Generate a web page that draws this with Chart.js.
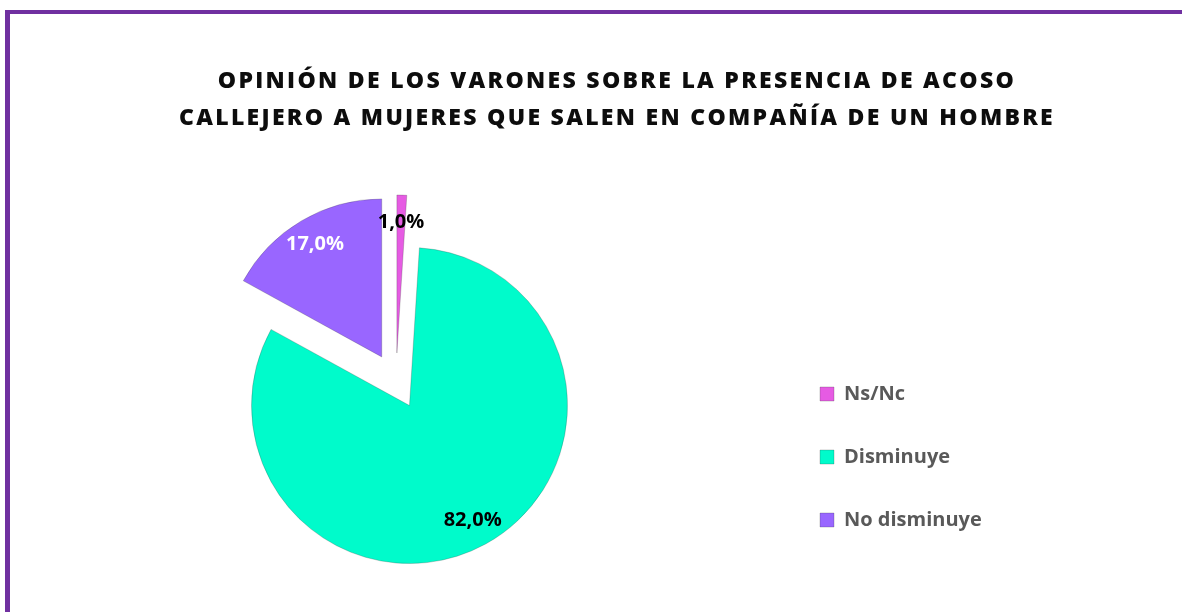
<!DOCTYPE html>
<html>
<head>
<meta charset="utf-8">
<title>Acoso callejero</title>
<script src="https://cdn.jsdelivr.net/npm/chart.js@4.4.1/dist/chart.umd.min.js"></script>
<style>
  html, body { margin: 0; padding: 0; background: #fff; overflow: hidden; }
  canvas { position: absolute; left: 0; top: 0; }
  #frame {
    position: absolute; left: 5px; top: 10px; width: 1200px; height: 640px;
    border-top: 4px solid #7030a0; border-left: 5px solid #7030a0;
    pointer-events: none;
  }
</style>
</head>
<body>
<canvas id="pieChart" width="1182" height="612"></canvas>
<div id="frame"></div>
<script>
const categories = ['Ns/Nc', 'Disminuye', 'No disminuye'];
const percentages = [1.0, 82.0, 17.0];
const sliceColors = ['#e65be3', '#00fbcb', '#9966ff'];
const labelColors = ['#000000', '#000000', '#ffffff'];
const titleLines = [
    'OPINIÓN DE LOS VARONES SOBRE LA PRESENCIA DE ACOSO',
    'CALLEJERO A MUJERES QUE SALEN EN COMPAÑÍA DE UN HOMBRE'
];

const FONT = "'Open Sans', 'DejaVu Sans', sans-serif";

// every slice is pulled out along its own mid angle (exploded pie)
const explodeSlices = {
    id: 'explodeSlices',
    beforeDatasetsDraw(chart, args, opts) {
        const area = chart.chartArea;
        const cx = (area.left + area.right) / 2;
        const cy = (area.top + area.bottom) / 2;
        chart.getDatasetMeta(0).data.forEach(arc => {
            const mid = (arc.startAngle + arc.endAngle) / 2;
            arc.x = cx + Math.cos(mid) * opts.distance;
            arc.y = cy + Math.sin(mid) * opts.distance;
        });
    }
};

// percent labels inside the slices, "82,0%" style
const sliceLabels = {
    id: 'sliceLabels',
    afterDatasetsDraw(chart, args, opts) {
        const ctx = chart.ctx;
        ctx.save();
        ctx.font = opts.font;
        ctx.textAlign = 'center';
        ctx.textBaseline = 'middle';
        chart.getDatasetMeta(0).data.forEach((arc, i) => {
            const mid = (arc.startAngle + arc.endAngle) / 2;
            const r = arc.outerRadius * opts.position;
            ctx.fillStyle = labelColors[i];
            ctx.fillText(percentages[i].toFixed(1).replace('.', ',') + '%',
                arc.x + Math.cos(mid) * r, arc.y + Math.sin(mid) * r);
        });
        ctx.restore();
    }
};

// wider legend box so the pie sits left of it, and spaced title letters
const boxTweaks = {
    id: 'boxTweaks',
    beforeInit(chart) {
        const legend = chart.legend;
        const fit = legend.fit;
        legend.fit = function () {
            fit.call(this);
            this.width = 442;
        };
        const block = chart.titleBlock;
        const draw = block.draw;
        block.draw = function () {
            const ctx = this.ctx;
            ctx.save();
            ctx.letterSpacing = '2.3px';
            draw.call(this);
            ctx.restore();
        };
    }
};

const ctx = document.getElementById('pieChart').getContext('2d');
const chart = new Chart(ctx, {
    type: 'pie',
    data: {
        labels: categories,
        datasets: [{
            data: percentages,
            backgroundColor: sliceColors,
            borderColor: 'rgba(60, 60, 60, 0.25)',
            borderWidth: 1,
            radius: 158
        }]
    },
    options: {
        responsive: false,
        animation: false,
        events: [],
        layout: {
            padding: { left: 15, right: -37, top: 0, bottom: 39 }
        },
        plugins: {
            title: {
                display: true,
                text: titleLines,
                color: '#0d0d0d',
                font: { family: FONT, size: 23, weight: 800, lineHeight: '37px' },
                padding: { top: 63, bottom: 52 }
            },
            legend: {
                position: 'right',
                align: 'end',
                labels: {
                    color: '#595959',
                    font: { family: FONT, size: 20, weight: 'bold' },
                    boxWidth: 14,
                    boxHeight: 14,
                    padding: 43
                }
            },
            tooltip: { enabled: false },
            explodeSlices: { distance: 28 },
            sliceLabels: { font: 'bold 20px ' + FONT, position: 0.83 }
        }
    },
    plugins: [explodeSlices, sliceLabels, boxTweaks]
});
</script>
</body>
</html>
